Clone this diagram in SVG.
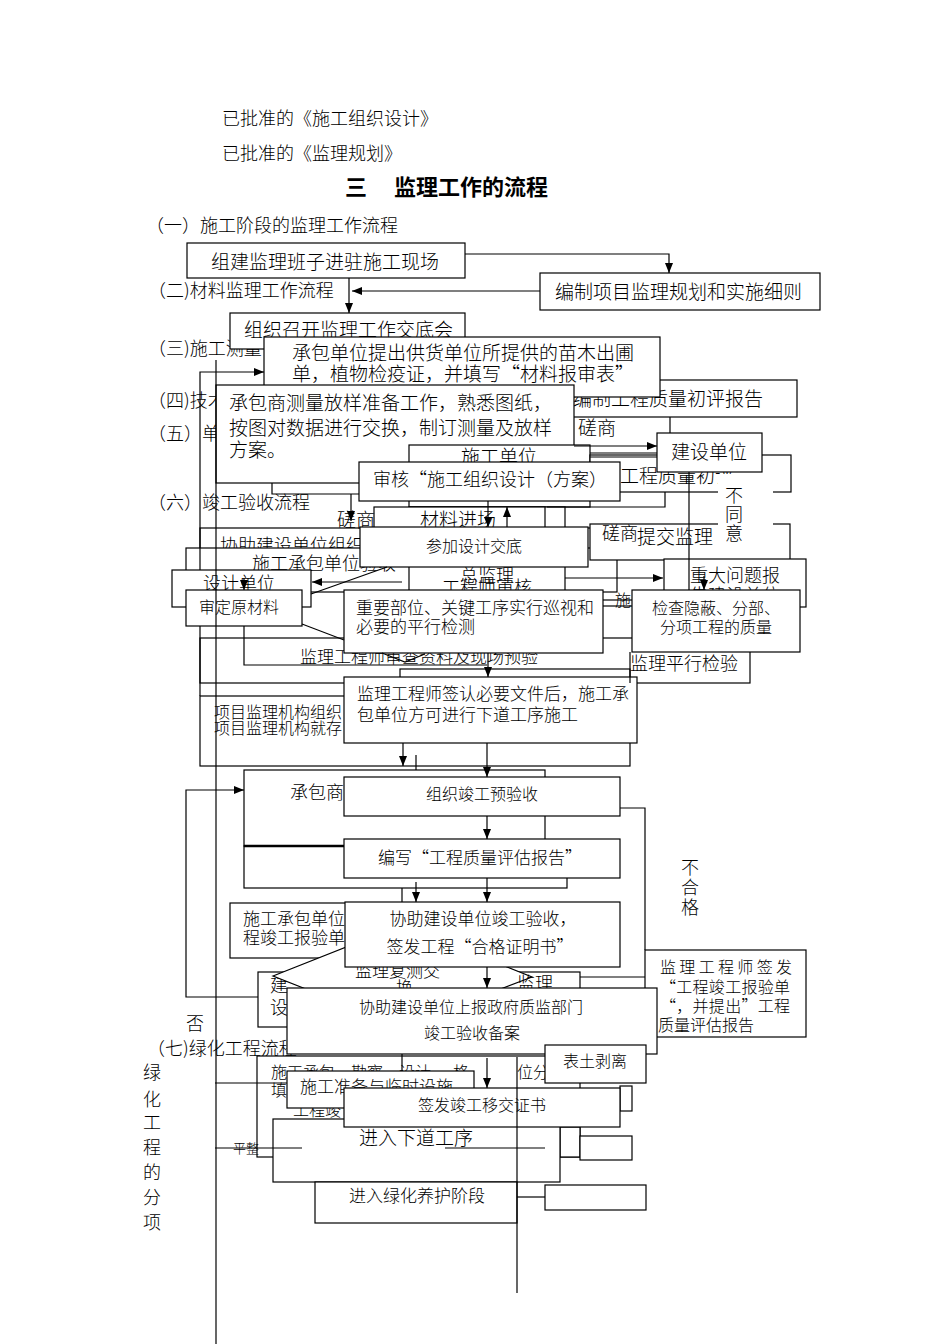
<svg xmlns="http://www.w3.org/2000/svg" width="950" height="1344" viewBox="0 0 950 1344">
<style>
text{font-family:"Noto Sans CJK SC","Noto Sans",sans-serif;fill:#000;font-size:18px;font-weight:300}
.b{fill:#fff;stroke:#000;stroke-width:1.2}
.w{fill:#fff;stroke:none}
.c{fill:none;stroke:#000;stroke-width:1.2}
.a{marker-end:url(#ah)}
.s13{font-size:13px}.s16{font-size:16px}.s17{font-size:17px}.s19{font-size:19px}
.m{text-anchor:middle}
.h{font-size:22px;font-weight:bold}
</style>
<defs>
<marker id="ah" markerUnits="userSpaceOnUse" markerWidth="10" markerHeight="8" refX="10" refY="4" orient="auto"><path d="M0,0L10,4L0,8z" fill="#000"/></marker>
</defs>
<rect width="950" height="1344" fill="#fff"/>
<g id="doc-text">
<text x="222" y="125">已批准的《施工组织设计》</text>
<text x="222" y="160">已批准的《监理规划》</text>
<text class="h" x="345" y="195">三</text>
<text class="h" x="394" y="195">监理工作的流程</text>
<text x="146" y="232">（一）施工阶段的监理工作流程</text>
<text x="148" y="297">（二)材料监理工作流程</text>
<text x="148" y="355">（三)施工测量</text>
<text x="148" y="407">（四)技术</text>
<text x="148" y="440">（五）单位</text>
<text x="148" y="509">（六）竣工验收流程</text>
<text x="186" y="1030">否</text>
<text x="147" y="1055">（七)绿化工程流程</text>
<g class="s16">
<text class="m" x="152" y="1079">绿</text><text class="m" x="152" y="1106">化</text><text class="m" x="152" y="1129">工</text><text class="m" x="152" y="1154">程</text><text class="m" x="152" y="1179">的</text><text class="m" x="152" y="1204">分</text><text class="m" x="152" y="1229">项</text>
</g>
<text class="m" x="690" y="874">不</text><text class="m" x="690" y="894">合</text><text class="m" x="690" y="914">格</text>
</g>
<g id="n-jiaodi"><rect class="b" x="230" y="313" width="235" height="36"/><text class="s19" x="244" y="337">组织召开监理工作交底会</text></g>
<g id="n-chuping"><rect class="b" x="560" y="380" width="237" height="37"/><text class="s19" x="573" y="406">编制工程质量初评报告</text></g>
<g id="n-zujian"><rect class="b" x="187" y="243" width="278" height="35"/><text class="s19" x="211" y="269">组建监理班子进驻施工现场</text></g>
<g id="n-bianzhi"><rect class="b" x="540" y="273" width="280" height="37"/><text class="s19" x="555" y="299">编制项目监理规划和实施细则</text></g>
<g id="n-cbdw"><rect class="b" x="264" y="337" width="396" height="60"/><text class="s19" x="292" y="360">承包单位提出供货单位所提供的苗木出圃</text><text class="s19" x="292" y="381">单，植物检疫证，并填写“材料报审表”</text></g>
<g id="n-cbscl"><rect class="b" x="216" y="385" width="358" height="98"/><text class="s19" x="229" y="410">承包商测量放样准备工作，熟悉图纸，</text><text class="s19" x="229" y="435">按图对数据进行交换，制订测量及放样</text><text class="s19" x="229" y="457">方案。</text></g>
<g id="n-cuoshang1"><text class="s19" x="578" y="435">磋商</text></g>
<g id="n-sgdw"><rect class="b" x="409" y="445" width="181" height="62"/><text class="s19 m" x="499" y="464">施工单位</text></g>
<g id="n-zlcp"><rect class="b" x="590" y="455" width="201" height="37"/><text class="s19" x="620" y="483">工程质量初评</text></g>
<g id="n-shenhe"><rect class="b" x="359" y="462" width="261" height="39"/><text class="m" x="490" y="486">审核“施工组织设计（方案）</text></g>
<g id="n-jianshe"><rect class="b" x="657" y="433" width="105" height="39"/><text class="s19 m" x="709" y="459">建设单位</text></g>
<g id="n-xzzz"><rect class="b" x="200" y="528" width="400" height="62"/><text x="220" y="552">协助建设单位组织</text></g>
<g id="n-sgyan"><rect class="b" x="186" y="548" width="431" height="44"/><text x="252" y="570">施工承包单位验收</text></g>
<g id="n-zjl"><rect class="b" x="409" y="507" width="156" height="85"/><text class="m" x="487" y="582">总监理</text><text x="442" y="594">工程师审核</text></g>
<g id="n-clj"><rect class="b" x="374" y="507" width="171" height="40"/><text class="s19" x="420" y="527">材料进场</text><text class="s19" x="337" y="527">磋商</text></g>
<g id="n-csq"><rect class="b" x="590" y="524" width="200" height="36"/><text x="602" y="540">磋商</text><text class="s19" x="637" y="544">提交监理</text></g>
<g id="n-zdwt"><rect class="b" x="664" y="559" width="142" height="48"/><text x="690" y="582">重大问题报</text><text x="690" y="602">告建设单位</text></g>
<g id="n-butongyi"><rect class="w" x="718" y="474" width="55" height="72"/><text class="m" x="734" y="502">不</text><text class="m" x="734" y="521">同</text><text class="m" x="734" y="540">意</text></g>
<g id="n-sjdw"><rect class="b" x="172" y="570" width="139" height="37"/><text x="203" y="590">设计单位</text></g>
<g id="n-sdycl"><rect class="b" x="186" y="590" width="116" height="36"/><text class="s16" x="199" y="613">审定原材料</text></g>
<g id="n-canjia"><rect class="b" x="360" y="527" width="228" height="40"/><text class="s16 m" x="474" y="552">参加设计交底</text></g>
<g id="n-shi"><text class="s16" x="615" y="606">施</text></g>
<g id="n-pxjy"><rect class="b" x="200" y="638" width="550" height="45"/><text class="s17" x="300" y="663">监理工程师审查资料及现场预验</text><text x="630" y="670">监理平行检验</text></g>
<g id="n-zhongyao"><rect class="b" x="344" y="590" width="259" height="63"/><text class="s17" x="356" y="614">重要部位、关键工序实行巡视和</text><text class="s17" x="356" y="633">必要的平行检测</text></g>
<g id="n-jiancha"><rect class="b" x="632" y="590" width="168" height="62"/><text class="s16 m" x="716" y="614">检查隐蔽、分部、</text><text class="s16 m" x="716" y="633">分项工程的质量</text></g>
<g id="n-kuang"><rect class="b" x="400" y="669" width="230" height="30"/></g>
<g id="n-xmjl"><rect class="b" x="200" y="696" width="430" height="70"/><text class="s16" x="214" y="718">项目监理机构组织</text><text class="s16" x="214" y="734">项目监理机构就存</text></g>
<g id="n-qianren"><rect class="b" x="344" y="677" width="293" height="66"/><text class="s17" x="357" y="700">监理工程师签认必要文件后，施工承</text><text class="s17" x="357" y="721">包单位方可进行下道工序施工</text></g>
<g id="n-cbs2"><rect class="b" x="244" y="846" width="323" height="42"/></g>
<g id="n-cbs"><rect class="b" x="244" y="770" width="301" height="76"/><line x1="244" y1="846" x2="545" y2="846" stroke="#000" stroke-width="2.4"/><text x="290" y="799">承包商</text></g>
<g id="n-zuzhi"><rect class="b" x="344" y="777" width="276" height="39"/><text class="s16 m" x="482" y="800">组织竣工预验收</text></g>
<g id="n-bianxie"><rect class="b" x="344" y="839" width="276" height="39"/><text class="s17 m" x="480" y="864">编写“工程质量评估报告”</text></g>
<g id="n-sgtj"><rect class="b" x="230" y="903" width="200" height="55"/><text class="s17" x="243" y="925">施工承包单位</text><text class="s17" x="243" y="944">程竣工报验单</text></g>
<g id="n-jsbox"><rect class="b" x="258" y="972" width="322" height="55"/><text x="270" y="992">建</text><text x="270" y="1014">设</text></g>
<g id="n-diamond"><polygon class="b" points="273,976 402,925 532,977 402,1027"/><text class="s17" x="355" y="977">监理复测交</text><text class="s17" x="396" y="994">换</text><text x="517" y="990">监理</text></g>
<g id="n-xzjg"><rect class="b" x="345" y="902" width="275" height="65"/><text class="s17 m" x="483" y="925">协助建设单位竣工验收，</text><text class="s17 m" x="480" y="953">签发工程“合格证明书”</text></g>
<g id="n-jlqf"><rect class="b" x="645" y="950" width="161" height="87"/><text class="s16" x="660" y="973" textLength="132" lengthAdjust="spacing">监理工程师签发</text><text class="s16" x="660" y="993" textLength="130" lengthAdjust="spacing">“工程竣工报验单</text><text class="s16" x="660" y="1012" textLength="130" lengthAdjust="spacing">“，并提出”工程</text><text class="s16" x="658" y="1031">质量评估报告</text></g>
<g id="n-xzsb"><rect class="b" x="287" y="988" width="370" height="66"/><text class="s16 m" x="471" y="1013">协助建设单位上报政府质监部门</text><text class="s16 m" x="472" y="1039">竣工验收备案</text></g>
<g id="n-lvbg"><rect class="b" x="257" y="1056" width="323" height="101"/><text class="s16" x="271" y="1078">施工承包、勘察、设计</text><text class="s16" x="453" y="1078">格</text><text class="s16" x="517" y="1078">位分</text><text class="s16" x="271" y="1096">填写“合</text><text class="s16" x="277" y="1116">“工程竣</text></g>
<g id="n-btbl"><rect class="b" x="545" y="1045" width="101" height="38"/><text class="s16 m" x="595" y="1067">表土剥离</text></g>
<g id="n-sgzb"><rect class="b" x="287" y="1071" width="187" height="37"/><text class="s17" x="300" y="1093">施工准备与临时设施</text></g>
<g id="n-xdgx"><rect class="b" x="560" y="1127" width="20" height="30"/><rect class="b" x="580" y="1136" width="52" height="24"/><rect class="b" x="273" y="1119" width="287" height="63"/><text class="s19" x="359" y="1145">进入下道工序</text><text class="s13" x="233" y="1153">平整</text></g>
<g id="n-qfjg"><rect class="b" x="620" y="1086" width="12" height="25"/><rect class="b" x="344" y="1088" width="276" height="39"/><text class="s16" x="418" y="1111">签发竣工移交证书</text></g>
<g id="n-lhyh"><rect class="b" x="545" y="1185" width="101" height="25"/><rect class="b" x="315" y="1182" width="202" height="41"/><text class="s17" x="349" y="1202">进入绿化养护阶段</text></g>
<g id="connectors">
<polyline class="c a" points="465,254 669,254 669,273"/>
<line class="c a" x1="540" y1="291" x2="352" y2="291"/>
<line class="c a" x1="349" y1="278" x2="349" y2="313"/>
<line class="c" x1="216" y1="360" x2="216" y2="1344"/>
<polyline class="c a" points="200,570 200,372 264,372"/>
<line class="c" x1="200" y1="626" x2="200" y2="696"/>
<line class="c a" x1="574" y1="446" x2="657" y2="446"/>
<line class="c" x1="590" y1="453" x2="657" y2="453"/>
<line class="c" x1="590" y1="457" x2="657" y2="457"/>
<line class="c" x1="670" y1="417" x2="670" y2="433"/>
<polyline class="c" points="665,492 665,507 547,507"/>
<line class="c" x1="689" y1="472" x2="689" y2="590"/>
<line class="c a" x1="565" y1="578" x2="663" y2="578"/>
<line class="c a" x1="704" y1="576" x2="704" y2="590"/>
<line class="c a" x1="488" y1="501" x2="488" y2="527"/>
<line class="c a" x1="507" y1="527" x2="507" y2="507"/>
<polyline class="c" points="272,483 272,494 359,494"/>
<line class="c a" x1="351" y1="494" x2="351" y2="521"/>
<line class="c a" x1="402" y1="582" x2="312" y2="582"/>
<line class="c a" x1="244" y1="578" x2="244" y2="590"/>
<line class="c" x1="311" y1="594" x2="387" y2="567"/>
<line class="c" x1="302" y1="624" x2="344" y2="640"/>
<polyline class="c" points="382,653 405,662 425,654"/>
<polyline class="c" points="244,626 244,665 487,665"/>
<line class="c a" x1="488" y1="653" x2="488" y2="677"/>
<line class="c" x1="603" y1="600" x2="632" y2="600"/>
<line class="c" x1="603" y1="606" x2="632" y2="606"/>
<line class="c" x1="630" y1="652" x2="630" y2="683"/>
<line class="c a" x1="403" y1="743" x2="403" y2="766"/>
<line class="c a" x1="487" y1="743" x2="487" y2="777"/>
<line class="c" x1="416" y1="755" x2="416" y2="770"/>
<line class="c a" x1="487" y1="816" x2="487" y2="839"/>
<line class="c a" x1="487" y1="878" x2="487" y2="902"/>
<line class="c" x1="402" y1="888" x2="402" y2="902"/>
<line class="c a" x1="416" y1="882" x2="416" y2="902"/>
<line class="c a" x1="487" y1="967" x2="487" y2="988"/>
<polyline class="c" points="620,808 645,808 645,950"/>
<line class="c" x1="580" y1="977" x2="645" y2="977"/>
<polyline class="c a" points="258,997 186,997 186,790 244,790"/>
<line class="c a" x1="487" y1="1058" x2="487" y2="1088"/>
<line class="c" x1="402" y1="1054" x2="402" y2="1071"/>
<line class="c" x1="215" y1="1083" x2="287" y2="1083"/>
<line class="c" x1="215" y1="1148" x2="302" y2="1148"/>
<line class="c" x1="445" y1="1148" x2="545" y2="1148"/>
<line class="c" x1="517" y1="1057" x2="517" y2="1293"/>
<line class="c" x1="517" y1="1197" x2="545" y2="1197"/>
</g>
</svg>
